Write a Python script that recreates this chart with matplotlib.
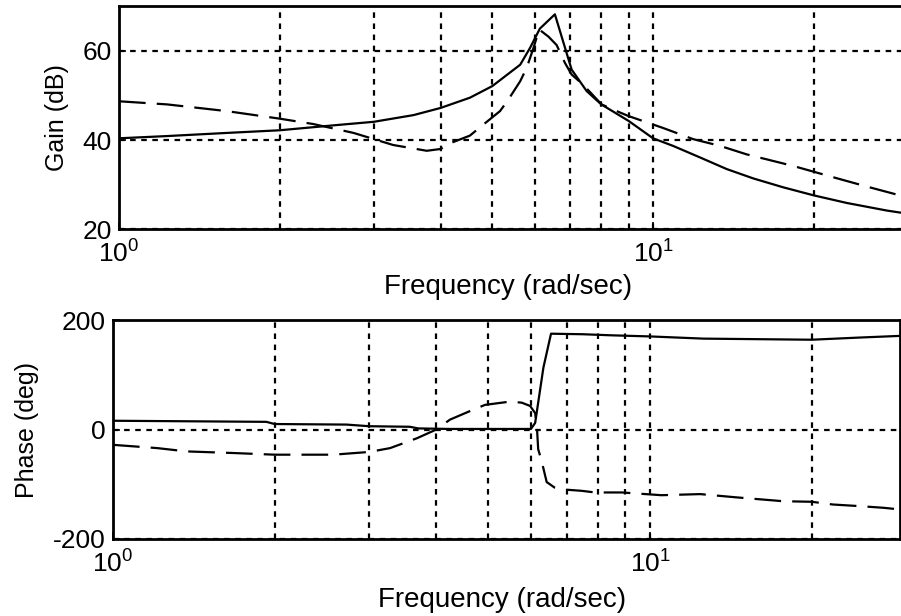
import numpy as np
import matplotlib.pyplot as plt
from matplotlib.ticker import LogLocator, NullFormatter, FixedLocator

plt.rcParams['font.family'] = ['Liberation Sans', 'DejaVu Sans']
plt.rcParams['mathtext.fontset'] = 'custom'
plt.rcParams['mathtext.rm'] = 'Liberation Sans'
plt.rcParams['mathtext.it'] = 'Liberation Sans:italic'
plt.rcParams['mathtext.bf'] = 'Liberation Sans:bold'
plt.rcParams['axes.unicode_minus'] = False

# Gain curves (dB) vs frequency (rad/sec)
w_gain_solid = [1, 1.23, 1.59, 2, 2.52, 3, 3.56, 4, 4.54, 5, 5.64, 5.88, 6.14,
                6.55, 7.04, 7.51, 8, 9, 10, 10.9, 12.25, 13.74, 15.41, 17.54, 20,
                23.06, 27.4, 29.2]
gain_solid = [40.4, 40.9, 41.6, 42.2, 43.3, 44.1, 45.6, 47.2, 49.5, 52.1, 56.9, 60.6, 65,
              68.2, 55.8, 51, 48, 44.3, 40.4, 38.7, 36.1, 33.5, 31.4, 29.4, 27.6,
              25.9, 24.2, 23.7]

w_gain_dash = [1, 1.23, 1.59, 2, 2.31, 2.75, 3.26, 3.77, 4, 4.13, 4.54, 4.78, 5.17, 5.36,
               5.64, 5.80, 5.97, 6.12, 6.37, 6.6, 6.84, 7.04, 7.40, 8.01, 8.55, 8.99, 9.94,
               10.45, 11.9, 13.35, 14.97, 18.3, 20, 21.4, 25.1, 29.2]
gain_dash = [48.7, 48, 46.5, 44.8, 43.6, 41.6, 38.9, 37.6, 38, 39.1, 41, 43.2, 46.5, 49.1,
             53.2, 56.2, 60.6, 64.8, 63.2, 61.3, 57.3, 54.7, 52.4, 48, 46.5, 45.4, 43.6,
             42.7, 40.2, 38.7, 36.8, 34.2, 32.9, 31.9, 29.6, 27.5]

# Phase curves (deg)
w_phase_solid = [1, 1.93, 2, 2.72, 3, 3.57, 3.7, 4.24, 5, 6.0, 6.11, 6.33, 6.54,
                 7.5, 8.5, 10, 12.57, 20, 24.6, 29.2]
phase_solid = [16, 14, 10, 9, 6, 5, 2, 1, 1, 1, 12, 113, 175,
               174, 172, 170, 166, 164, 168, 171]

w_phase_dash = [1, 1.21, 1.37, 1.68, 2, 2.57, 3, 3.28, 3.68, 4.0, 4.24, 4.68, 4.93, 5.49,
                5.77, 5.98, 6.11, 6.16, 6.19, 6.28, 6.42, 6.64, 7.0, 7.46, 7.9, 8.86, 10.5,
                12.4, 14.5, 17.7, 20, 21.9, 24.6, 27.2, 29.2]
phase_dash = [-28, -34, -40, -43, -46, -46, -41, -34, -16, 0, 18, 36, 45, 51,
              49, 43, 30, 0, -36, -57, -96, -106, -110, -112, -115, -115, -120,
              -118, -124, -131, -132, -137, -140, -143, -146]

gain_ticks = [20, 40, 60]
phase_ticks = [-200, 0, 200]
w_min, w_max = 1, 29.2

fig = plt.figure(figsize=(9.01, 6.16), dpi=100)
ax1 = fig.add_axes([0.1321, 0.6278, 0.8685, 0.3620])
ax2 = fig.add_axes([0.1254, 0.1250, 0.8735, 0.3555])

dash = (0, (12, 5))
grid_ls = (0, (2.5, 2.5))


def style_axes(ax, yticks, ylim, ylabel, xlab_xy, ylab_xy):
    ax.set_xscale('log')
    ax.set_xlim(w_min, w_max)
    ax.set_ylim(*ylim)
    ax.yaxis.set_major_locator(FixedLocator(yticks))
    ax.xaxis.set_major_locator(LogLocator(base=10))
    ax.xaxis.set_minor_locator(LogLocator(base=10, subs=np.arange(2, 10)))
    ax.xaxis.set_minor_formatter(NullFormatter())
    ax.grid(True, which='both', axis='x', color='black', linestyle=grid_ls, linewidth=1.6)
    ax.grid(True, which='major', axis='y', color='black', linestyle=grid_ls, linewidth=1.6)
    ax.tick_params(which='both', direction='in', labelsize=19, length=5, width=1.2)
    ax.tick_params(which='minor', length=3)
    ax.tick_params(axis='x', pad=8)
    ax.tick_params(axis='y', pad=5)
    for s in ax.spines.values():
        s.set_linewidth(2)
    ax.set_xlabel('Frequency (rad/sec)', fontsize=20)
    ax.set_ylabel(ylabel, fontsize=18)
    ax.xaxis.set_label_coords(*xlab_xy)
    ax.yaxis.set_label_coords(*ylab_xy)
    ax.xaxis.label.set_va('center')
    ax.yaxis.label.set_va('center')


# Gain plot
ax1.plot(w_gain_solid, gain_solid, color='black', linewidth=1.6)
ax1.plot(w_gain_dash, gain_dash, color='black', linewidth=1.6, linestyle=dash)
style_axes(ax1, gain_ticks, (20, 70), 'Gain (dB)', (0.497, -0.257), (-0.079, 0.5))

# Phase plot
ax2.plot(w_phase_solid, phase_solid, color='black', linewidth=1.6)
ax2.plot(w_phase_dash, phase_dash, color='black', linewidth=1.6, linestyle=dash)
style_axes(ax2, phase_ticks, (-200, 200), 'Phase (deg)', (0.494, -0.279), (-0.109, 0.5))

fig.savefig('out.png', dpi=100)
